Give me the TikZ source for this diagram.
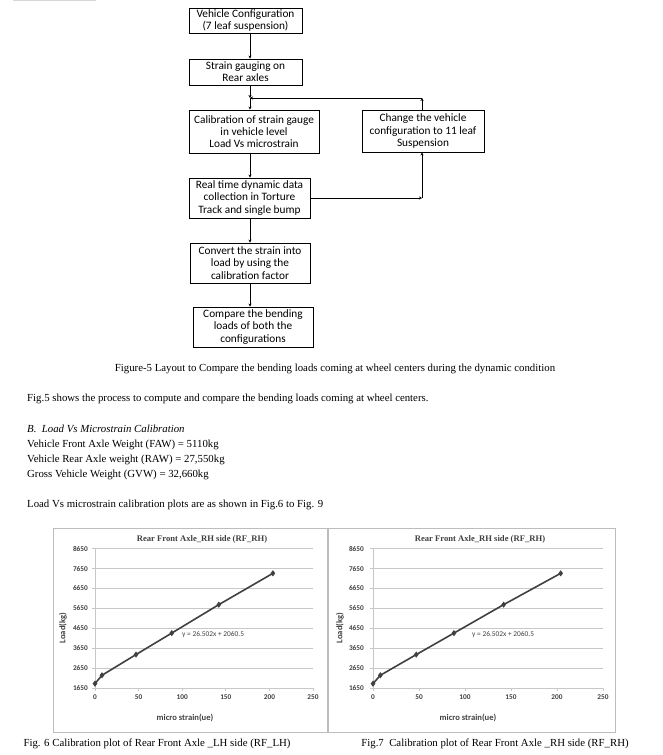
\documentclass[tikz,border=0pt]{standalone}
\usepackage{fontspec}
\setmainfont{Liberation Serif}
\newfontfamily\calfont{Carlito}
\usetikzlibrary{arrows.meta,plotmarks}
\definecolor{gridc}{HTML}{C8C8C8}
\definecolor{framec}{HTML}{BDBDBD}
\definecolor{chtext}{HTML}{404040}
\tikzset{
  flowbox/.style={draw, line width=0.9pt, font=\calfont\fontsize{11.3}{12.3}\selectfont, align=center, inner sep=0pt},
  arr/.style={line width=0.9pt, -{Stealth[length=3pt,width=3pt]}},
  body/.style={font=\fontsize{10.8}{12}\selectfont, inner sep=0pt},
  chframe/.style={draw=framec, line width=0.8pt},
  chgrid/.style={draw=gridc, line width=0.7pt},
  ticklab/.style={font=\calfont\bfseries\fontsize{7.3}{8}\selectfont, text=chtext, inner sep=0pt},
  axlab/.style={font=\calfont\bfseries\fontsize{8.6}{9}\selectfont, text=chtext, inner sep=0pt},
  chtitle/.style={font=\bfseries\fontsize{8.6}{9}\selectfont, text=chtext, inner sep=0pt},
  eqlab/.style={font=\calfont\fontsize{7.4}{8}\selectfont, text=chtext, inner sep=0pt, anchor=west},
  dataline/.style={draw=chtext, line width=1.6pt}
}
% #1 axis x, #2 px per unit, #3 tick label gap, #4 ylabel x, #5 title x, #6 eq x, #7 xlabel x, #8 frame left, #9 frame right
\newcommand\calchart[9]{%
  \draw[chframe] (#8,528) rectangle (#9,732);
  \begin{scope}[shift={(#1,688)}, x=#2pt, y=0.0199pt]
    \draw[chgrid] (0,0) -- (0,7000);
    \foreach \v in {0,1000,...,7000}{%
      \draw[chgrid] (0,\v) -- (250,\v);
      \draw[chgrid] (0,\v) -- ++(-3pt,0pt);
      \pgfmathtruncatemacro\lab{\v+1650}%
      \node[ticklab, anchor=east, xshift=-#3pt] at (0,\v) {\lab};
    }
    \foreach \u in {0,50,...,250}{%
      \draw[chgrid] (\u,0) -- ++(0pt,-3pt);
      \node[ticklab, yshift=-9pt] at (\u,0) {\u};
    }
    \draw[dataline] plot[mark=diamond*, mark size=1.8pt, mark options={fill=chtext, draw=chtext}] coordinates {(0,220) (8,640) (47,1680) (88,2760) (142,4190) (204,5764)};
  \end{scope}
  \node[chtitle] at (#5,539) {Rear Front Axle\_RH side (RF\_RH)};
  \node[axlab, rotate=90] at (#4,628) {Load(kg)};
  \node[axlab] at (#7,718) {micro strain(ue)};
  \node[eqlab] at (#6,635) {y = 26.502x + 2060.5};
}
\begin{document}
\begin{tikzpicture}[x=1pt,y=-1pt]
\useasboundingbox (0,0) rectangle (662,755);
\draw[draw=framec!60, line width=1pt] (13,0.5) -- (96,0.5);
% flowchart
\node[flowbox, minimum width=113pt, minimum height=25pt] (b1) at (245.5,20.5) {Vehicle Configuration\\(7 leaf suspension)};
\node[flowbox, minimum width=113pt, minimum height=26pt] (b2) at (245.5,72) {Strain gauging on\\Rear axles};
\node[flowbox, minimum width=130pt, minimum height=43pt] (b3) at (254,131.5) {Calibration of strain gauge\\in vehicle level\\Load Vs microstrain};
\node[flowbox, minimum width=122pt, minimum height=42pt] (b4) at (423,131) {Change the vehicle\\configuration to 11 leaf\\Suspension};
\node[flowbox, minimum width=121pt, minimum height=40pt] (b5) at (249.5,198) {Real time dynamic data\\collection in Torture\\Track and single bump};
\node[flowbox, minimum width=120pt, minimum height=40pt] (b6) at (250,263) {Convert the strain into\\load by using the\\calibration factor};
\node[flowbox, minimum width=120pt, minimum height=40pt] (b7) at (253,327) {Compare the bending\\loads of both the\\configurations};
\coordinate (j1) at (250,98);
\coordinate (j2) at (422,98);
\coordinate (j3) at (422,198);
\draw[arr] (b1.south -| j1) -- (b2.north -| j1);
\draw[arr] (b2.south -| j1) -- (j1);
\draw[arr] (j1) -- (b3.north -| j1);
\draw[arr] (b4.north -| j2) -- (j2);
\draw[arr] (j2) -- (j1);
\draw[arr] (b3.south -| j1) -- (b5.north -| j1);
\draw[arr] (b5.east) -- (j3);
\draw[arr] (j3) -- (b4.south -| j3);
\draw[arr] (b5.south -| j1) -- (b6.north -| j1);
\draw[arr] (b6.south -| j1) -- (b7.north -| j1);
% text
\node[body, anchor=base] (cap5) at (335,371) {Figure-5 Layout to Compare the bending loads coming at wheel centers during the dynamic condition};
\node[body, anchor=base west] (t1) at (27,401) {Fig.5 shows the process to compute and compare the bending loads coming at wheel centers.};
\node[body, anchor=base west] (t2) at (27,432) {\textit{B.\ \ Load Vs Microstrain Calibration}};
\node[body, anchor=base west] (t3) at (27,447) {Vehicle Front Axle Weight (FAW) = 5110kg};
\node[body, anchor=base west] (t4) at (27,462) {Vehicle Rear Axle weight (RAW) = 27,550kg};
\node[body, anchor=base west] (t5) at (27,477) {Gross Vehicle Weight (GVW) = 32,660kg};
\node[body, anchor=base west] (t6) at (27,507) {Load Vs microstrain calibration plots are as shown in Fig.6 to Fig. 9};
% charts
\calchart{95}{0.872}{7}{63}{202}{182}{185}{53}{327}
\calchart{373}{0.92}{9}{340}{480}{472}{468}{328}{615}
\node[body, anchor=base] (cap6) at (157,746) {Fig. 6 Calibration plot of Rear Front Axle \_LH side (RF\_LH)};
\node[body, anchor=base] (cap7) at (495,746) {Fig.7\ \ Calibration plot of Rear Front Axle \_RH side (RF\_RH)};
\end{tikzpicture}
\end{document}
